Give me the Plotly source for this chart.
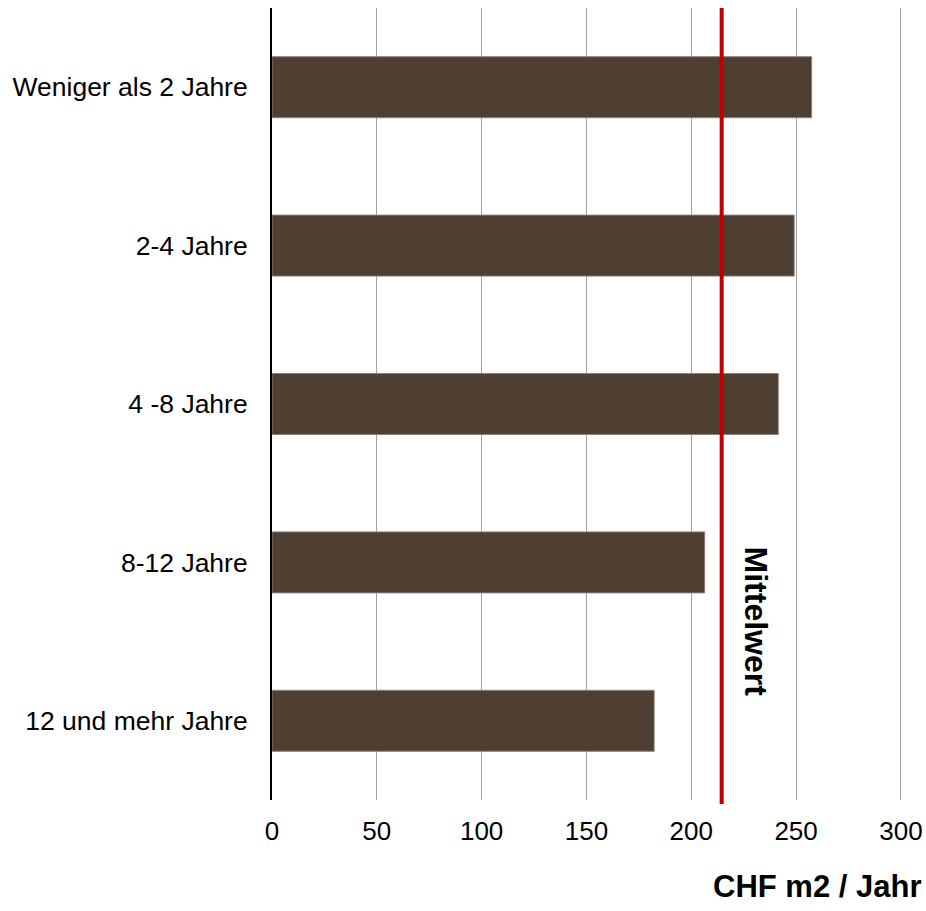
import plotly.graph_objects as go

categories = ["Weniger als 2 Jahre", "2-4 Jahre", "4 -8 Jahre", "8-12 Jahre", "12 und mehr Jahre"]
values = [257.4, 249.1, 241.5, 206.4, 182.3]
mean_value = 214.5
x_ticks = [0, 50, 100, 150, 200, 250, 300]
mean_label = "Mittelwert"
axis_title = "CHF m2 / Jahr"

FONT = "Liberation Sans, Arial, sans-serif"

fig = go.Figure()
fig.add_trace(go.Bar(
    y=categories,
    x=values,
    orientation="h",
    marker=dict(color="#4F3E32", line=dict(color="#8C817A", width=1)),
    hoverinfo="x+y",
))

fig.add_shape(type="line", xref="x", yref="paper",
              x0=mean_value, x1=mean_value, y0=-0.005, y1=1.0,
              line=dict(color="#C00000", width=4), layer="above")

fig.add_annotation(text="<b>" + mean_label + "</b>", xref="x", yref="paper",
                   x=231.0, y=0.225, textangle=90, showarrow=False,
                   xanchor="center", yanchor="middle",
                   font=dict(family=FONT, size=32, color="black"))

fig.add_annotation(text="<b>" + axis_title + "</b>", xref="paper", yref="paper",
                   x=1.032, y=-0.1086, xanchor="right", yanchor="middle",
                   showarrow=False,
                   font=dict(family=FONT, size=31, color="black"))

fig.update_layout(
    width=926, height=911,
    margin=dict(l=272, r=23, t=8, b=111, autoexpand=False),
    plot_bgcolor="white", paper_bgcolor="white",
    bargap=0.615,
    showlegend=False,
    font=dict(family=FONT, size=26, color="black"),
)
fig.update_xaxes(range=[0, 301], tickvals=x_ticks, showgrid=True,
                 gridcolor="#A0A0A0", gridwidth=1, zeroline=False,
                 showline=False, ticks="", ticklabelstandoff=13,
                 automargin=False,
                 tickfont=dict(family=FONT, size=26, color="black"))
fig.update_yaxes(categoryorder="array", categoryarray=categories[::-1],
                 showline=True, linecolor="black", linewidth=2,
                 showgrid=False, ticks="", ticklabelstandoff=17,
                 automargin=False,
                 tickfont=dict(family=FONT, size=26.5, color="black"))

fig.write_html("out.html", config={"displayModeBar": False},
               post_script="document.body.style.margin='0';")
